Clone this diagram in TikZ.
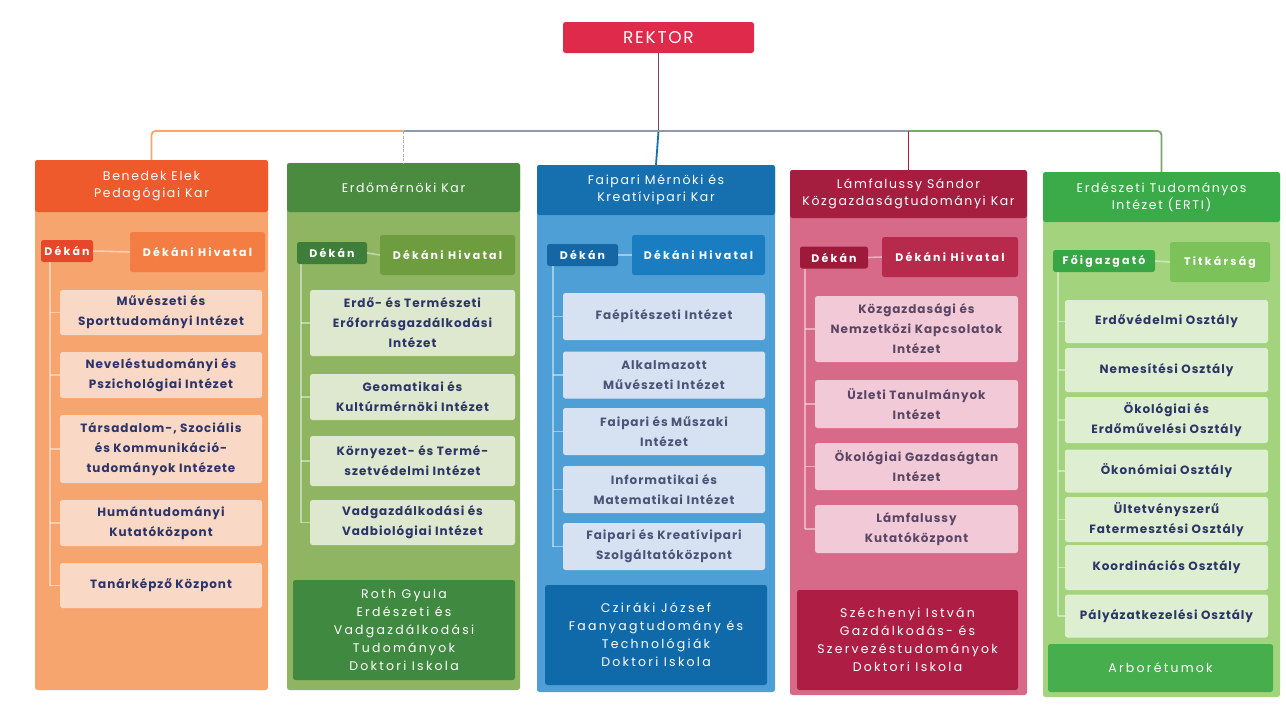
\documentclass[tikz,border=0pt]{standalone}
\usepackage{fontspec}
\setmainfont{Poppins}
\newfontfamily\popls[LetterSpace=8]{Poppins}
\newfontfamily\popwide[LetterSpace=18]{Poppins}
\newfontfamily\pophdr[LetterSpace=13]{Poppins}
\newfontfamily\popsm[LetterSpace=20]{Poppins}
\newfontfamily\poprk[LetterSpace=10]{Poppins}
\newcommand{\hdrfont}{\pophdr\fontsize{12.5}{17}\selectfont}
\newcommand{\itmfont}{\popls\bfseries\fontsize{12}{20}\selectfont}
\newcommand{\smfont}{\popsm\bfseries\fontsize{11}{13}\selectfont}
\newcommand{\botfont}{\popwide\fontsize{12.5}{18}\selectfont}
% column 1 orange
\definecolor{c1h}{HTML}{EE5A2C}\definecolor{c1b}{HTML}{F7A56F}\definecolor{c1d}{HTML}{E6472A}
\definecolor{c1o}{HTML}{F47D43}\definecolor{c1i}{HTML}{FAD8C6}\definecolor{c1t}{HTML}{2C3468}
% column 2 olive
\definecolor{c2h}{HTML}{4B8B40}\definecolor{c2b}{HTML}{8FB562}\definecolor{c2d}{HTML}{3E7D3A}
\definecolor{c2o}{HTML}{6D9D3F}\definecolor{c2i}{HTML}{DDE8CE}\definecolor{c2t}{HTML}{2C3468}
\definecolor{c2x}{HTML}{3F8A40}
% column 3 blue
\definecolor{c3h}{HTML}{1670B0}\definecolor{c3b}{HTML}{4E9FD6}\definecolor{c3d}{HTML}{1466A5}
\definecolor{c3o}{HTML}{1A7CC1}\definecolor{c3i}{HTML}{D6E2F2}\definecolor{c3t}{HTML}{4A5478}
\definecolor{c3x}{HTML}{106AA9}
% column 4 crimson
\definecolor{c4h}{HTML}{A51D3F}\definecolor{c4b}{HTML}{D76A88}\definecolor{c4d}{HTML}{9D1A3A}
\definecolor{c4o}{HTML}{B72A4C}\definecolor{c4i}{HTML}{F2C9D6}\definecolor{c4t}{HTML}{5A4664}
\definecolor{c4x}{HTML}{AE1E44}
% column 5 green
\definecolor{c5h}{HTML}{3BAA48}\definecolor{c5b}{HTML}{A3D47D}\definecolor{c5d}{HTML}{38A645}
\definecolor{c5o}{HTML}{7CC25B}\definecolor{c5i}{HTML}{DEEFD1}\definecolor{c5t}{HTML}{2C3468}
\definecolor{c5x}{HTML}{46AE4C}
\definecolor{rk}{HTML}{E02A4B}
\definecolor{busc}{HTML}{8E9AB4}
\begin{document}
\begin{tikzpicture}[x=1pt,y=-1pt,
  base/.style={rounded corners=2.5pt, inner sep=0pt, align=center, draw=none},
  body/.style={base, fill=#1},
  hdr/.style={base, fill=#1, text=white, font=\hdrfont},
  dek/.style={base, fill=#1, text=white, font=\smfont, minimum height=22},
  off/.style={base, fill=#1, text=white, font=\smfont, minimum height=40},
  item/.style={base, fill=#1, font=\itmfont},
  bot/.style={base, fill=#1, text=white, font=\botfont},
  vline/.style={draw=white, opacity=0.45, line width=1.6pt},
  bus/.style={line width=1.8pt}
]
\useasboundingbox (0,0) rectangle (1286,707);
\fill[white] (0,0) rectangle (1286,707);

% REKTOR
\node[base, fill=rk, text=white, font=\poprk\fontsize{17}{19}\selectfont, minimum width=191, minimum height=31] (rektor) at (658.5,37.5) {REKTOR};

% ---------- column 1 ----------
\node[body=c1b, minimum width=233, minimum height=530] (b1) at (151.5,425) {};
\node[hdr=c1h, minimum width=233, minimum height=52] (h1) at (151.5,186) {Benedek Elek\\Pedagógiai Kar};
\node[dek=c1d, minimum width=52] (d1) at (67,251) {Dékán};
\node[off=c1o, minimum width=135] (o1) at (197.5,252) {Dékáni Hivatal};
\draw[vline] (d1.east) -- (o1.west);
\begin{scope}[every node/.style={item=c1i, text=c1t, minimum width=202}]
\node[minimum height=45] (i11) at (161,312.5) {Művészeti és\\Sporttudományi Intézet};
\node[minimum height=46] (i12) at (161,375) {Neveléstudományi és\\Pszichológiai Intézet};
\node[minimum height=68] (i13) at (161,449) {Társadalom-, Szociális\\és Kommunikáció-\\tudományok Intézete};
\node[minimum height=46] (i14) at (161,523) {Humántudományi\\Kutatóközpont};
\node[minimum height=45] (i15) at (161,585.5) {Tanárképző Központ};
\end{scope}
\coordinate (v1) at (50,585.5);
\draw[vline] (d1.south -| v1) -- (v1);
\foreach \n in {i11,i12,i13,i14,i15} \draw[vline] (\n.west -| v1) -- (\n.west);

% ---------- column 2 ----------
\node[body=c2b, minimum width=233, minimum height=527] (b2) at (403.5,426.5) {};
\node[hdr=c2h, minimum width=233, minimum height=49] (h2) at (403.5,187.5) {Erdőmérnöki Kar};
\node[dek=c2d, minimum width=70] (d2) at (332,253) {Dékán};
\node[off=c2o, minimum width=135] (o2) at (447.5,255) {Dékáni Hivatal};
\draw[vline] (d2.east) -- (o2.west);
\begin{scope}[every node/.style={item=c2i, text=c2t, minimum width=205}]
\node[minimum height=66] (i21) at (412.5,323) {Erdő- és Természeti\\Erőforrásgazdálkodási\\Intézet};
\node[minimum height=46] (i22) at (412.5,397) {Geomatikai és\\Kultúrmérnöki Intézet};
\node[minimum height=50] (i23) at (412.5,461) {Környezet- és Termé-\\szetvédelmi Intézet};
\node[minimum height=45] (i24) at (412.5,522.5) {Vadgazdálkodási és\\Vadbiológiai Intézet};
\end{scope}
\node[bot=c2x, minimum width=222, minimum height=100] (x2) at (404,630) {Roth Gyula\\Erdészeti és\\Vadgazdálkodási\\Tudományok\\Doktori Iskola};
\coordinate (v2) at (301,522.5);
\draw[vline] (d2.south -| v2) -- (v2);
\foreach \n in {i21,i22,i23,i24} \draw[vline] (\n.west -| v2) -- (\n.west);

% ---------- column 3 ----------
\node[body=c3b, minimum width=238, minimum height=527] (b3) at (656,428.5) {};
\node[hdr=c3h, minimum width=238, minimum height=50] (h3) at (656,190) {Faipari Mérnöki és\\Kreatívipari Kar};
\node[dek=c3d, minimum width=71] (d3) at (582.5,255) {Dékán};
\node[off=c3o, minimum width=133] (o3) at (698.5,255) {Dékáni Hivatal};
\draw[vline] (d3.east) -- (o3.west);
\begin{scope}[every node/.style={item=c3i, text=c3t, minimum width=202, minimum height=47}]
\node (i31) at (664,316.5) {Faépítészeti Intézet};
\node (i32) at (664,375) {Alkalmazott\\Művészeti Intézet};
\node (i33) at (664,431.5) {Faipari és Műszaki\\Intézet};
\node (i34) at (664,489.5) {Informatikai és\\Matematikai Intézet};
\node (i35) at (664,546.5) {Faipari és Kreatívipari\\Szolgáltatóközpont};
\end{scope}
\node[bot=c3x, minimum width=222, minimum height=100] (x3) at (656,635) {Cziráki József\\Faanyagtudomány és\\Technológiák\\Doktori Iskola};
\coordinate (v3) at (553,546.5);
\draw[vline] (d3.south -| v3) -- (v3);
\foreach \n in {i31,i32,i33,i34,i35} \draw[vline] (\n.west -| v3) -- (\n.west);

% ---------- column 4 ----------
\node[body=c4b, minimum width=237, minimum height=525] (b4) at (908.5,432.5) {};
\node[hdr=c4h, minimum width=237, minimum height=48] (h4) at (908.5,194) {Lámfalussy Sándor\\Közgazdaságtudományi Kar};
\node[dek=c4d, minimum width=68] (d4) at (834,257.5) {Dékán};
\node[off=c4o, minimum width=136] (o4) at (950,257) {Dékáni Hivatal};
\draw[vline] (d4.east) -- (o4.west);
\begin{scope}[every node/.style={item=c4i, text=c4t, minimum width=203}]
\node[minimum height=66] (i41) at (916.5,329) {Közgazdasági és\\Nemzetközi Kapcsolatok\\Intézet};
\node[minimum height=48] (i42) at (916.5,404) {Üzleti Tanulmányok\\Intézet};
\node[minimum height=47] (i43) at (916.5,466.5) {Ökológiai Gazdaságtan\\Intézet};
\node[minimum height=48] (i44) at (916.5,529) {Lámfalussy\\Kutatóközpont};
\end{scope}
\node[bot=c4x, minimum width=221, minimum height=100] (x4) at (907.5,640) {Széchenyi István\\Gazdálkodás- és\\Szervezéstudományok\\Doktori Iskola};
\coordinate (v4) at (805,529);
\draw[vline] (d4.south -| v4) -- (v4);
\foreach \n in {i41,i42,i43,i44} \draw[vline] (\n.west -| v4) -- (\n.west);

% ---------- column 5 ----------
\node[body=c5b, minimum width=237, minimum height=525] (b5) at (1161.5,434.5) {};
\node[hdr=c5h, minimum width=237, minimum height=50] (h5) at (1161.5,197) {Erdészeti Tudományos\\Intézet (ERTI)};
\node[dek=c5d, minimum width=102] (d5) at (1104,261) {Főigazgató};
\node[off=c5o, minimum width=100] (o5) at (1220,262) {Titkárság};
\draw[vline] (d5.east) -- (o5.west);
\begin{scope}[every node/.style={item=c5i, text=c5t, minimum width=203}]
\node[minimum height=43] (i51) at (1166.5,321.5) {Erdővédelmi Osztály};
\node[minimum height=44] (i52) at (1166.5,370) {Nemesítési Osztály};
\node[minimum height=46] (i53) at (1166.5,420) {Ökológiai és\\Erdőművelési Osztály};
\node[minimum height=43] (i54) at (1166.5,471) {Ökonómiai Osztály};
\node[minimum height=45] (i55) at (1166.5,519.5) {Ültetvényszerű\\Fatermesztési Osztály};
\node[minimum height=45] (i56) at (1166.5,567.5) {Koordinációs Osztály};
\node[minimum height=43] (i57) at (1166.5,616) {Pályázatkezelési Osztály};
\end{scope}
\node[bot=c5x, minimum width=225, minimum height=48] (x5) at (1160.5,668) {Arborétumok};
\coordinate (v5) at (1058,616);
\draw[vline] (d5.south -| v5) -- (v5);
\foreach \n in {i51,i52,i53,i54,i55,i56,i57} \draw[vline] (\n.west -| v5) -- (\n.west);

% ---------- connectors from REKTOR ----------
\coordinate (bus) at (rektor.south |- 0,131);
\coordinate (k2) at (h2.north |- bus);
\coordinate (k4) at (h4.north |- bus);
\draw[bus, draw=c4o!70!c3h] (rektor.south) -- (bus);
\draw[bus, draw=c3h] (bus) -- (h3.north);
\draw[bus, draw=c1b, rounded corners=4pt] (h1.north) |- (k2);
\draw[line width=1.2pt, draw=gray!60, dash pattern=on 3pt off 1.5pt] (k2) -- (h2.north);
\draw[bus, draw=busc] (k2) -- (bus) -- (k4);
\draw[bus, draw=c4h] (k4) -- (h4.north);
\draw[bus, draw=gray!40!c5o, rounded corners=4pt] (k4) -| (h5.north);
\end{tikzpicture}
\end{document}
